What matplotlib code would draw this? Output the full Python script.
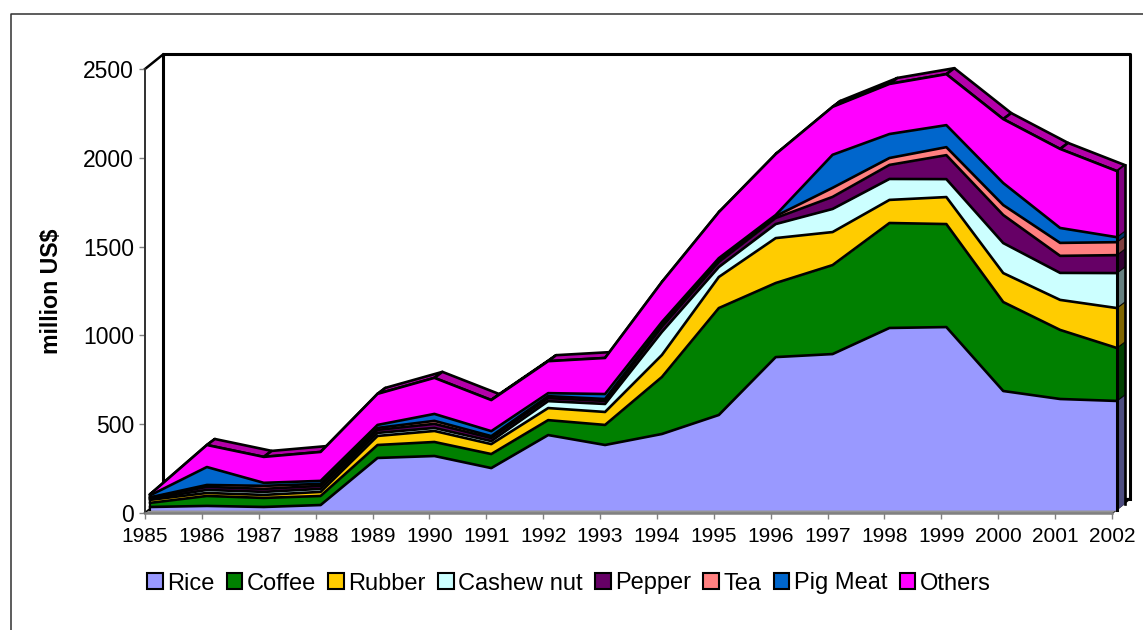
import matplotlib
matplotlib.use("Agg")
import matplotlib.pyplot as plt
import numpy as np
from matplotlib.lines import Line2D
from matplotlib.patches import Patch, Polygon

plt.rcParams['font.family'] = ['Liberation Sans', 'DejaVu Sans']

years = np.arange(1985, 2003)
names = ["Rice", "Coffee", "Rubber", "Cashew nut", "Pepper", "Tea", "Pig Meat", "Others"]

rice = [17, 23, 17, 28, 293, 304, 236, 422, 366, 428, 535, 861, 878, 1025, 1030, 670, 625, 614]
coffee = [23, 56, 51, 51, 73, 79, 79, 84, 113, 321, 602, 417, 501, 591, 580, 501, 389, 298]
rubber = [17, 17, 17, 23, 51, 62, 56, 68, 73, 124, 175, 253, 186, 130, 152, 163, 169, 225]
cashew = [6, 17, 17, 17, 17, 17, 17, 39, 45, 130, 56, 79, 130, 118, 101, 169, 152, 197]
pepper = [6, 17, 17, 17, 17, 23, 17, 17, 17, 28, 28, 34, 68, 79, 135, 158, 96, 101]
tea = [2, 11, 17, 11, 11, 17, 11, 11, 11, 11, 11, 11, 51, 39, 45, 56, 73, 73]
pig = [11, 101, 17, 17, 17, 39, 28, 17, 28, 17, 11, 6, 186, 135, 124, 124, 84, 28]
others = [6, 124, 146, 163, 175, 203, 175, 180, 203, 225, 259, 343, 270, 282, 287, 360, 445, 372]

series = [rice, coffee, rubber, cashew, pepper, tea, pig, others]
colors = ["#9999FF", "#008000", "#FFCC00", "#CCFFFF", "#660066", "#FF8080", "#0066CC", "#FF00FF"]
sides = ["#4D4D80", "#004000", "#806600", "#668080", "#330033", "#804040", "#003366", "#800080"]
top_color = "#B400AA"

W, H = 1143, 630
fig = plt.figure(figsize=(W / 100, H / 100), dpi=100)
ax = fig.add_axes([145 / W, 1 - 513 / H, (1112 - 145) / W, (513 - 69) / H])
ax.set_xlim(1985, 2002)
ax.set_ylim(0, 2500)
ax.patch.set_visible(False)

# pixel -> data sizes for the fake 3d depth
px_x = 17 / (1112 - 145)
px_y = 2500 / (513 - 69)
dx, dy = 5 * px_x, 3 * px_y        # front face of the areas
ex, ey = 8 * px_x, 6 * px_y        # extrusion of the areas
wx, wy = 18 * px_x, 14.5 * px_y    # back wall

grey = "#808080"
dark = "#303030"
lw = 1.9
x0, x1 = 1985, 2002

# walls
ax.plot([x0 + wx, x0 + wx, x1 + wx, x1 + wx], [wy, 2500 + wy, 2500 + wy, wy],
        color="black", lw=2.2, clip_on=False, zorder=1)
ax.plot([x0, x0 + wx], [2500, 2500 + wy], color="black", lw=1.8, clip_on=False, zorder=1)
ax.plot([x0, x0 + wx], [0, wy], color="black", lw=1.6, clip_on=False, zorder=1)
ax.plot([x1, x1 + wx], [0, wy], color="black", lw=1.6, clip_on=False, zorder=1)
ax.plot([x0 + wx, x1 + wx], [wy, wy], color="black", lw=1.6, clip_on=False, zorder=1)

# grey floor in front of the areas
ax.add_patch(Polygon([(x0, 0), (x1, 0), (x1 + dx, dy), (x0 + dx, dy)],
                     closed=True, fc="#969696", ec="none", clip_on=False, zorder=2))

xs = years + dx
cum = np.cumsum(np.array(series, dtype=float), axis=0)
lower = np.vstack([np.zeros(len(years)), cum[:-1]])

# top of the stack, going back
top = cum[-1]
for i in range(len(years) - 1):
    quad = [(xs[i], top[i] + dy), (xs[i + 1], top[i + 1] + dy),
            (xs[i + 1] + ex, top[i + 1] + dy + ey), (xs[i] + ex, top[i] + dy + ey)]
    ax.add_patch(Polygon(quad, closed=True, fc=top_color, ec="black", lw=lw,
                         clip_on=False, zorder=3, joinstyle="round"))

# right end of the stack
for k in range(len(series)):
    a, b = lower[k][-1] + dy, cum[k][-1] + dy
    quad = [(xs[-1], a), (xs[-1] + ex, a + ey), (xs[-1] + ex, b + ey), (xs[-1], b)]
    ax.add_patch(Polygon(quad, closed=True, fc=sides[k], ec="none", clip_on=False, zorder=3))
    ax.plot([xs[-1], xs[-1] + ex], [b, b + ey], color="black", lw=0.8, clip_on=False, zorder=3.5)
ax.plot([xs[-1] + ex] * 2, [dy + ey, top[-1] + dy + ey], color="black", lw=lw, clip_on=False, zorder=3.5)

# front faces
for k in range(len(series)):
    ax.fill_between(xs, lower[k] + dy, cum[k] + dy, color=colors[k], lw=0, clip_on=False, zorder=4)
for k in range(len(series)):
    ax.plot(xs, cum[k] + dy, color="black", lw=lw, clip_on=False, zorder=5, solid_joinstyle="round")
ax.plot([xs[-1]] * 2, [dy, top[-1] + dy], color="black", lw=2.2, clip_on=False, zorder=5)
ax.plot([xs[0]] * 2, [dy, top[0] + dy], color="black", lw=1.5, clip_on=False, zorder=5)

# axes
for s in ["top", "right"]:
    ax.spines[s].set_visible(False)
ax.spines["left"].set_color(dark)
ax.spines["left"].set_linewidth(1.4)
ax.spines["bottom"].set_color(grey)
ax.spines["bottom"].set_linewidth(1.8)
ax.set_xticks(years)
ax.set_yticks([0, 500, 1000, 1500, 2000, 2500])
ax.tick_params(axis="x", labelsize=15, length=4, width=1, color=grey, pad=6)
ax.tick_params(axis="y", labelsize=16.5, length=4, width=1, color=grey, pad=4)
ax.set_ylabel("million US$", fontsize=16.7, fontweight="bold")
ax.yaxis.set_label_coords((63 - 145) / (1112 - 145), (513 - 291) / (513 - 69))

handles = [Patch(fc=c, ec="black", lw=1.5, label=n) for c, n in zip(colors, names)]
fig.legend(handles=handles, loc="center left", bbox_to_anchor=(147 / W, 1 - 583.5 / H), ncol=8,
           frameon=False, fontsize=17, handlelength=0.66, handleheight=0.66,
           handletextpad=0.2, columnspacing=0.51, borderpad=0, borderaxespad=0)

# chart area frame, only top and left fall inside the picture
fig.add_artist(Line2D([10.5 / W, 10.5 / W, 1], [0, 1 - 14 / H, 1 - 14 / H], color="#303030", lw=1.1))

fig.savefig("out.png", dpi=100)
